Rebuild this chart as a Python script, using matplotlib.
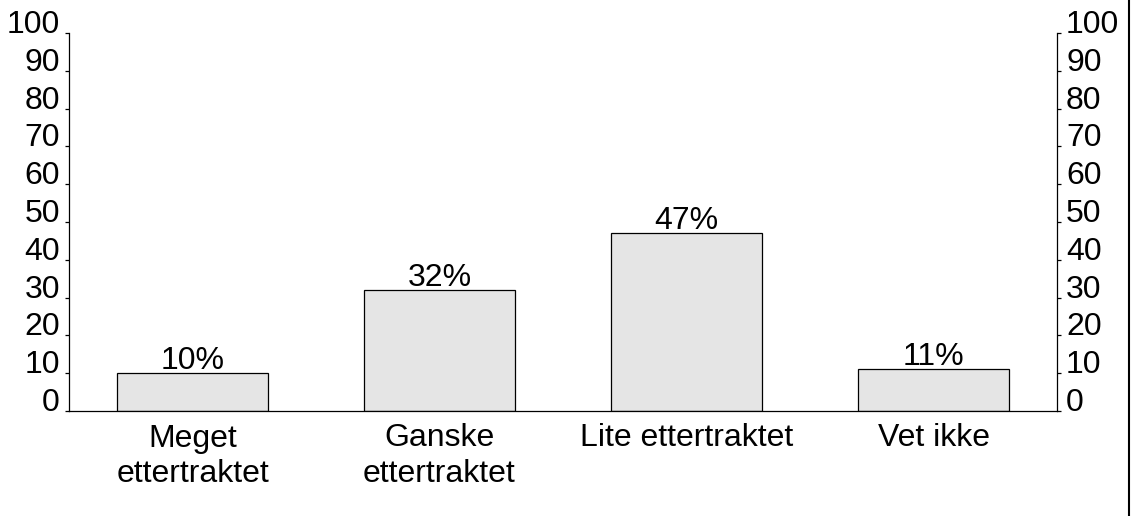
import matplotlib.pyplot as plt
from matplotlib.lines import Line2D

categories = ["Meget\nettertraktet", "Ganske\nettertraktet", "Lite ettertraktet", "Vet ikke"]
values = [10, 32, 47, 11]
y_ticks = list(range(0, 101, 10))

plt.rcParams["font.family"] = ["Liberation Sans", "DejaVu Sans"]
FONT_SIZE = 23

fig = plt.figure(figsize=(11.31, 5.16), dpi=100)
ax = fig.add_axes([69 / 1131, 1 - 411 / 516, (1057 - 69) / 1131, (411 - 33) / 516])

positions = range(len(categories))
bars = ax.bar(positions, values, width=0.61, color="#e5e5e5", edgecolor="black", linewidth=0.9)
for bar, value in zip(bars, values):
    ax.text(bar.get_x() + bar.get_width() / 2, value + 1.1, f"{value}%",
            ha="center", va="baseline", fontsize=FONT_SIZE)

ax.set_xlim(-0.5, len(categories) - 0.5)
ax.set_ylim(0, 100)
ax.set_xticks(list(positions))
ax.set_xticklabels(categories, fontsize=FONT_SIZE, linespacing=1.22)
ax.tick_params(axis="x", length=0, pad=9)
ax.set_yticks(y_ticks)
ax.tick_params(axis="y", labelsize=FONT_SIZE, length=3, width=0.9, direction="out", pad=3.5,
               right=True, labelright=True)
for tick in ax.yaxis.get_major_ticks():
    tick.label1.set_verticalalignment("baseline")
    tick.label2.set_verticalalignment("baseline")
ax.spines["top"].set_visible(False)
for side in ("left", "right", "bottom"):
    ax.spines[side].set_linewidth(0.9)

fig.add_artist(Line2D([1129 / 1131, 1129 / 1131], [0, 1], color="black", linewidth=1.5,
                      transform=fig.transFigure))

fig.savefig("out.png", dpi=100)
